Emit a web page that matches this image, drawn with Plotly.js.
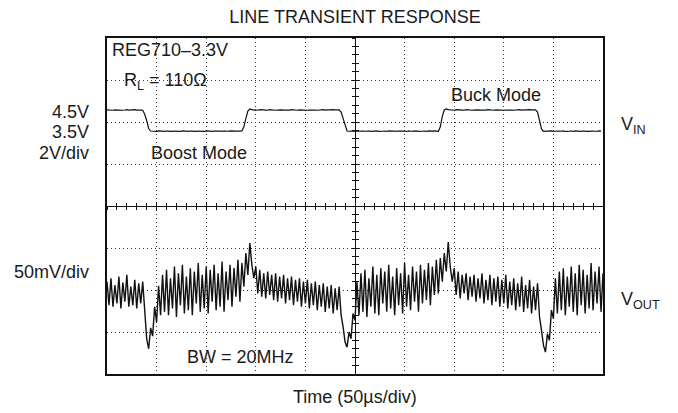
<!DOCTYPE html>
<html>
<head>
<meta charset="utf-8">
<script src="https://cdn.plot.ly/plotly-3.0.1.min.js"></script>
<style>html,body{margin:0;padding:0;background:#fff;}#chart{width:678px;height:413px;}</style>
</head>
<body>
<div id="chart"></div>
<script>
// Sampling: one sample every 2 µs, starting at 0 µs (251 samples, 0..500 µs)
var sampleStartUs = 0;
var sampleStepUs = 2;

// Input voltage (V)
var vinVolts = [
  // 0..36 µs high (19)
  4.51,4.50,4.52,4.49,4.51,4.50,4.52,4.51,4.49,4.50,4.52,4.50,4.51,4.49,4.52,4.50,4.51,4.50,4.49,
  // falling edge 38..44 µs (4)
  4.30,4.00,3.62,3.50,
  // 46..136 µs low (46)
  3.49,3.50,3.48,3.51,3.49,3.50,3.48,3.50,3.49,3.51,3.48,3.50,3.49,3.50,3.48,3.51,3.49,3.50,3.48,3.50,3.49,3.51,3.48,
  3.50,3.49,3.50,3.48,3.51,3.49,3.50,3.48,3.50,3.51,3.49,3.50,3.48,3.51,3.49,3.50,3.52,3.51,3.50,3.49,3.51,3.50,3.51,
  // rising edge 138..144 µs (4)
  3.70,4.10,4.45,4.55,
  // 146..234 µs high (45)
  4.52,4.50,4.51,4.49,4.52,4.50,4.51,4.50,4.49,4.52,4.50,4.51,4.49,4.50,4.52,4.51,4.50,4.49,4.51,4.50,4.52,4.50,4.51,
  4.49,4.51,4.50,4.52,4.51,4.49,4.50,4.51,4.52,4.50,4.49,4.51,4.50,4.52,4.50,4.51,4.49,4.50,4.52,4.51,4.50,4.51,
  // falling edge 236..242 µs (4)
  4.40,4.10,3.70,3.50,
  // 244..334 µs low (46)
  3.49,3.50,3.48,3.51,3.49,3.50,3.48,3.50,3.49,3.51,3.50,3.48,3.50,3.49,3.51,3.48,3.50,3.49,3.50,3.48,3.51,3.49,3.50,
  3.50,3.48,3.50,3.51,3.49,3.50,3.48,3.51,3.49,3.50,3.49,3.51,3.48,3.50,3.49,3.50,3.48,3.51,3.49,3.50,3.51,3.50,3.49,
  // rising edge 336..342 µs (4)
  3.70,4.20,4.50,4.55,
  // 344..434 µs high (46)
  4.52,4.50,4.51,4.49,4.52,4.50,4.51,4.50,4.49,4.52,4.50,4.51,4.49,4.50,4.52,4.51,4.50,4.49,4.51,4.50,4.52,4.50,4.51,
  4.49,4.51,4.50,4.52,4.51,4.49,4.50,4.51,4.52,4.50,4.49,4.51,4.50,4.52,4.50,4.51,4.49,4.50,4.52,4.51,4.50,4.51,
  // falling edge 436..442 µs (4)
  4.40,4.00,3.60,3.48,
  // 444..500 µs low (29)
  3.49,3.50,3.48,3.51,3.49,3.50,3.48,3.50,3.49,3.51,3.48,3.50,3.49,3.50,3.48,
  3.51,3.49,3.50,3.48,3.50,3.49,3.51,3.48,3.50,3.49,3.50,3.49,3.51,3.50
];

// Output voltage deviation from 3.3 V (mV), AC view
var voutMilliVolts = [
  10,-18,14,-20,6,-16,16,-22,9,-14,18,-20,4,-18,12,-22,8,-16,10,
  -28,-58,-70,-45,-55,-20,-38,5,-30,
  18,-26,24,-30,14,-22,28,-32,20,-18,30,-28,16,-24,26,-30,22,-16,32,-26,18,-22,28,-28,24,-14,30,-24,20,-20,34,-26,22,-12,30,-20,26,-8,36,-14,32,
  4,44,18,56,30,
  14,28,-4,24,-8,20,-10,22,-6,18,-12,20,-14,16,-10,18,-16,14,-12,16,-18,12,-14,14,-20,10,-16,12,-22,8,-18,10,-24,6,-20,8,-26,4,-22,6,-28,2,-24,4,
  -30,-44,-62,-68,-50,-58,-28,
  -36,10,-30,20,-26,24,-32,14,-20,28,-28,18,-30,26,-16,22,-26,30,-22,16,-30,26,-18,20,-28,32,-20,18,-24,28,-14,22,-26,30,-16,24,-12,32,-18,28,-6,36,-4,38,10,
  44,22,57,28,
  10,26,-6,22,-10,18,-4,20,-12,16,-8,18,-14,14,-10,20,-16,12,-12,18,-18,14,-14,16,-20,12,-16,18,-22,10,-18,14,-24,8,-20,16,-26,6,-22,12,-28,4,-24,8,
  -32,-48,-66,-74,-52,-60,-24,
  -34,14,-28,22,-24,26,-30,16,-20,28,-26,20,-30,30,-18,24,-28,18,-22,32,-24,22,-16,28,-26,20
];

var textFont = {family: 'Liberation Sans, Arial, Helvetica, sans-serif', size: 18, color: '#1a1a1a'};

var traces = [
  {x: [], y: [], xaxis: 'x', yaxis: 'y', type: 'scatter', mode: 'lines', hoverinfo: 'skip', showlegend: false},
  {name: 'VIN', x0: sampleStartUs, dx: sampleStepUs, y: vinVolts, xaxis: 'x2', yaxis: 'y2',
   type: 'scatter', mode: 'lines', line: {color: '#111', width: 1.2}, showlegend: false},
  {name: 'VOUT', x0: sampleStartUs, dx: sampleStepUs, y: voutMilliVolts, xaxis: 'x3', yaxis: 'y3',
   type: 'scatter', mode: 'lines', line: {color: '#111', width: 1.4}, showlegend: false}
];

var gridAxis = {
  showgrid: true, gridcolor: '#333', gridwidth: 1, griddash: '1px,3px',
  showline: true, linecolor: '#111', linewidth: 1.6, mirror: true,
  showticklabels: false, ticks: '', zeroline: false, fixedrange: true
};
function crossAxis(extra) {
  var a = {showgrid: false, showline: true, linecolor: '#111', linewidth: 1,
           ticklen: 3, tickwidth: 1, tickcolor: '#111', showticklabels: false,
           zeroline: false, fixedrange: true, anchor: 'free', position: 0.5};
  for (var k in extra) a[k] = extra[k];
  return a;
}

function px2x(px) { return (px - 107) / 496; }
function px2y(py) { return (374 - py) / 336; }
function ann(text, px, py, xanchor) {
  return {text: text, xref: 'paper', yref: 'paper', x: px2x(px), y: px2y(py),
          xanchor: xanchor, yanchor: 'middle', showarrow: false, font: textFont};
}

var layout = {
  width: 678, height: 413,
  margin: {l: 107, r: 75, t: 38, b: 39},
  paper_bgcolor: '#fff', plot_bgcolor: '#fff',
  title: {text: 'LINE TRANSIENT RESPONSE', font: textFont, x: 0.5, xref: 'paper', xanchor: 'center',
          y: 1 - 17 / 413, yref: 'container', yanchor: 'middle'},
  xaxis: Object.assign({range: [0, 500], tick0: 0, dtick: 50}, gridAxis),
  yaxis: Object.assign({range: [0, 8], tick0: 0, dtick: 1}, gridAxis),
  xaxis2: crossAxis({overlaying: 'x', range: [0, 500], tick0: 0, dtick: 10, ticks: 'outside'}),
  xaxis3: crossAxis({overlaying: 'x', range: [0, 500], tick0: 0, dtick: 10, ticks: 'inside'}),
  yaxis2: crossAxis({overlaying: 'y', range: [-8.07, 7.93], tick0: -8.07, dtick: 0.4, ticks: 'outside'}),
  yaxis3: crossAxis({overlaying: 'y', range: [-100, 300], tick0: -100, dtick: 10, ticks: 'inside'}),
  annotations: [
    ann('REG710–3.3V', 110, 50, 'left'),
    ann('R<sub>L</sub> = 110Ω', 122, 81, 'left'),
    ann('Boost Mode', 149, 153, 'left'),
    ann('Buck Mode', 449, 95, 'left'),
    ann('BW = 20MHz', 185, 357, 'left'),
    ann('4.5V', 91, 112, 'right'),
    ann('3.5V', 91, 132, 'right'),
    ann('2V/div', 91, 153, 'right'),
    ann('50mV/div', 91, 272, 'right'),
    ann('V<sub>IN</sub>', 619, 126, 'left'),
    ann('V<sub>OUT</sub>', 619, 300, 'left'),
    ann('Time (50µs/div)', 355, 397, 'center')
  ]
};

Plotly.newPlot('chart', traces, layout, {staticPlot: true, displayModeBar: false});
</script>
</body>
</html>
